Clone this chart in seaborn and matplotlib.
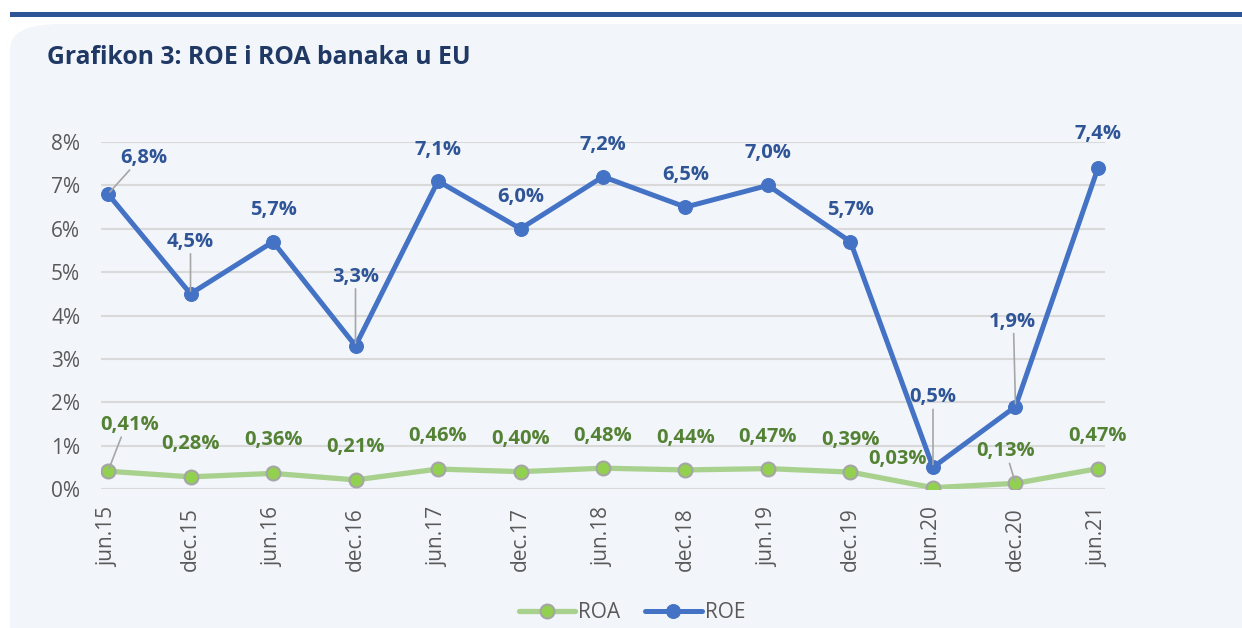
import numpy as np
import pandas as pd
import seaborn as sns
import matplotlib.pyplot as plt
from matplotlib.patches import FancyBboxPatch, Rectangle

periods = ["jun.15", "dec.15", "jun.16", "dec.16", "jun.17", "dec.17", "jun.18",
           "dec.18", "jun.19", "dec.19", "jun.20", "dec.20", "jun.21"]
roe = [6.8, 4.5, 5.7, 3.3, 7.1, 6.0, 7.2, 6.5, 7.0, 5.7, 0.5, 1.9, 7.4]
roa = [0.41, 0.28, 0.36, 0.21, 0.46, 0.40, 0.48, 0.44, 0.47, 0.39, 0.03, 0.13, 0.47]
roe_labels = ["6,8%", "4,5%", "5,7%", "3,3%", "7,1%", "6,0%", "7,2%", "6,5%", "7,0%",
              "5,7%", "0,5%", "1,9%", "7,4%"]
roa_labels = ["0,41%", "0,28%", "0,36%", "0,21%", "0,46%", "0,40%", "0,48%", "0,44%",
              "0,47%", "0,39%", "0,03%", "0,13%", "0,47%"]

# label offsets in pixels (dx, dy) and whether a leader line is drawn
roe_off = [(36, 36), (0, 52), (0, 32), (0, 69), (0, 31), (0, 32), (0, 32), (0, 32),
           (0, 32), (0, 32), (0, 70), (-3, 85), (0, 34)]
roe_lead = [True, True, False, True, False, False, False, False, False, False, True, True, False]
roa_off = [(22, 46), (0, 33), (0, 33), (0, 33), (0, 33), (0, 33), (0, 32), (0, 32),
           (0, 32), (0, 32), (-35, 29), (-10, 32), (0, 33)]
roa_lead = [True, False, False, False, False, False, False, False, False, False, False, True, False]

df = pd.DataFrame({"x": np.arange(len(periods)), "ROE": roe, "ROA": roa})

sns.set_theme(style="white")
plt.rcParams["font.family"] = ["Open Sans", "DejaVu Sans"]

panel = "#F2F5FA"
blue, blue_txt = "#4472C4", "#2F5597"
green_line, green_mk, green_txt = "#A9D18E", "#92D050", "#548235"

fig = plt.figure(figsize=(12.42, 6.28), dpi=100)
fig.patch.set_facecolor("white")
fig.patches.append(Rectangle((10 / 1242, 1 - 17 / 628), 1, 5 / 628, transform=fig.transFigure,
                             facecolor="#2F5597", edgecolor="none", zorder=-2))
fig.patches.append(FancyBboxPatch((10 / 1242, -0.1), 1.2, 1 - 24 / 628 + 0.1,
                                  boxstyle="round,pad=0,rounding_size=0.04",
                                  mutation_aspect=628 / 1242 * 2,
                                  transform=fig.transFigure, facecolor=panel,
                                  edgecolor="none", zorder=-2))
fig.text(47 / 1242, 1 - 58 / 628, "Grafikon 3: ROE i ROA banaka u EU", fontsize=17.8,
         fontweight="bold", color="#1F3864", va="center", ha="left")

ax = fig.add_axes([101 / 1242, 1 - 489 / 628, (1105 - 101) / 1242, (489 - 142) / 628])
ax.set_facecolor("none")

sns.lineplot(data=df, x="x", y="ROA", ax=ax, color=green_line, linewidth=3.8,
             marker="o", markersize=10, markerfacecolor=green_mk,
             markeredgecolor="#A5A5A5", markeredgewidth=1.5, label="ROA", zorder=3)
sns.lineplot(data=df, x="x", y="ROE", ax=ax, color=blue, linewidth=3.6,
             marker="o", markersize=10, markerfacecolor=blue,
             markeredgecolor=blue, label="ROE", zorder=4)

ax.set_xlim(-0.085, len(periods) - 1 + 0.085)
ax.set_ylim(0, 8)
ax.set_yticks(range(0, 9))
ax.set_yticklabels([f"{v}%" for v in range(0, 9)])
ax.set_xticks(df["x"])
ax.set_xticklabels(periods, rotation=90)
ax.tick_params(axis="both", length=0, labelsize=15, labelcolor="#595959")
ax.tick_params(axis="x", pad=13)
ax.tick_params(axis="y", pad=15)
ax.grid(axis="y", color="#D9D9D9", linewidth=1.5)
ax.set_axisbelow(True)
for s in ax.spines.values():
    s.set_visible(False)
ax.set_xlabel("")
ax.set_ylabel("")

def put_labels(vals, labels, offs, leads, color):
    for i, (v, lab, off, lead) in enumerate(zip(vals, labels, offs, leads)):
        ax.annotate(lab, (i, v), xytext=off, textcoords="offset pixels",
                    ha="center", va="center", fontsize=14.5, fontweight="bold",
                    color=color, zorder=6, annotation_clip=False)
        if lead:
            ax.annotate("", (i, v), xytext=(off[0] * 0.6, off[1] - 12), textcoords="offset pixels",
                        arrowprops=dict(arrowstyle="-", color="#A6A6A6", lw=1.2,
                                        shrinkA=0, shrinkB=2), zorder=5, annotation_clip=False)

put_labels(roe, roe_labels, roe_off, roe_lead, blue_txt)
put_labels(roa, roa_labels, roa_off, roa_lead, green_txt)

ax.legend_.remove()
h, l = ax.get_legend_handles_labels()
fig.legend(h, l, loc="center", bbox_to_anchor=(632 / 1242, 1 - 613 / 628), ncol=2,
           frameon=False, fontsize=15, labelcolor="#595959", handlelength=2.7,
           columnspacing=1.2, handletextpad=0.15)

fig.savefig("out.png", dpi=100, facecolor=fig.get_facecolor())
